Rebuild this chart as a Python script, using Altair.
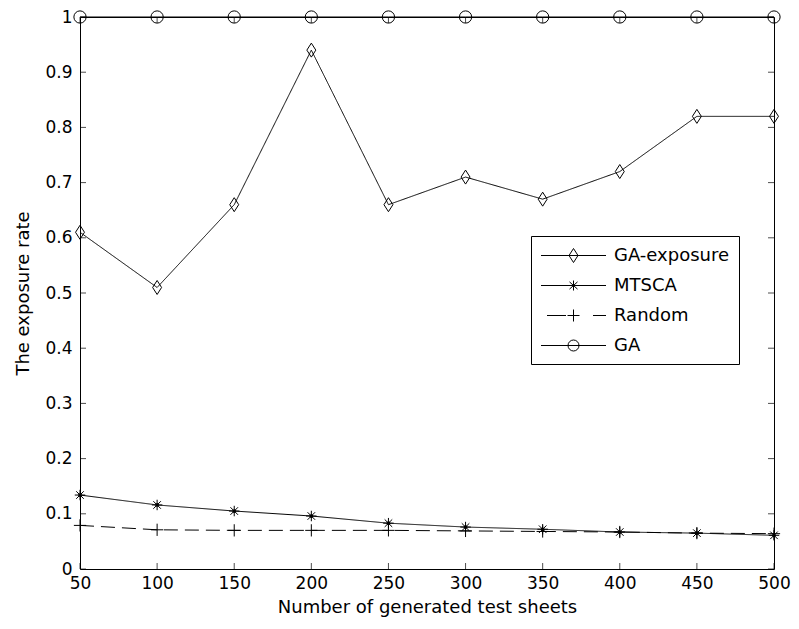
import altair as alt
import pandas as pd

# ---- data ----
sheets = [50, 100, 150, 200, 250, 300, 350, 400, 450, 500]
ga_exposure = [0.61, 0.51, 0.66, 0.94, 0.66, 0.71, 0.67, 0.72, 0.82, 0.82]
mtsca = [0.134, 0.116, 0.105, 0.096, 0.083, 0.076, 0.072, 0.067, 0.065, 0.061]
random_ = [0.079, 0.071, 0.070, 0.070, 0.070, 0.069, 0.068, 0.067, 0.065, 0.064]
ga = [1.0, 1.0, 1.0, 1.0, 1.0, 1.0, 1.0, 1.0, 1.0, 1.0]

series_names = ["GA-exposure", "MTSCA", "Random", "GA"]
x_ticks = [50, 100, 150, 200, 250, 300, 350, 400, 450, 500]
y_ticks = [0, 0.1, 0.2, 0.3, 0.4, 0.5, 0.6, 0.7, 0.8, 0.9, 1]

rows = []
for name, vals in zip(series_names, [ga_exposure, mtsca, random_, ga]):
    for xv, yv in zip(sheets, vals):
        rows.append({"series": name, "x": xv, "y": yv})
df = pd.DataFrame(rows)

W, H = 694, 552
FONT = "DejaVu Sans"

X = alt.X("x:Q", title="Number of generated test sheets",
          scale=alt.Scale(domain=[50, 500], nice=False, zero=False),
          axis=alt.Axis(values=x_ticks, tickSize=0, domain=False, grid=False,
                        labelFlush=False, labelOverlap=False, labelPadding=6,
                        titlePadding=7))
Y = alt.Y("y:Q", title="The exposure rate",
          scale=alt.Scale(domain=[0, 1], nice=False),
          axis=alt.Axis(values=y_ticks, tickSize=0, domain=False, grid=False,
                        labelFlush=False, labelOverlap=False, labelPadding=8,
                        titlePadding=12, format="~g"))

base = alt.Chart(df)

line_dash = {"GA-exposure": [1, 0], "MTSCA": [1, 0], "Random": [14, 7], "GA": [1, 0]}
line_layers = []
for name in series_names:
    line_layers.append(
        base.transform_filter(alt.datum.series == name)
        .mark_line(color="black", strokeWidth=1, strokeDash=line_dash[name])
        .encode(x=X, y=Y)
    )

marker_specs = {
    "GA-exposure": ("M0,-1L0.64,0L0,1L-0.64,0Z", 196),
    "MTSCA": ("M-1,0H1M0,-1V1M-0.72,-0.72L0.72,0.72M-0.72,0.72L0.72,-0.72", 110),
    "Random": ("M-1,0H1M0,-1V1", 150),
    "GA": ("circle", 150),
}
marker_layers = []
for name in series_names:
    shp, sz = marker_specs[name]
    marker_layers.append(
        base.transform_filter(alt.datum.series == name)
        .mark_point(shape=shp, size=sz, filled=False, color="black",
                    strokeWidth=1, opacity=1)
        .encode(x=X, y=Y)
    )
mtsca_dot = (base.transform_filter(alt.datum.series == "MTSCA")
             .mark_point(shape="circle", size=14, filled=True, color="black", opacity=1)
             .encode(x=X, y=Y))

# legend symbols: line + marker drawn as one path
legend_paths = [
    "M-3.25,0H3.25M0,-0.7L0.45,0L0,0.7L-0.45,0Z",
    "M-3.25,0H3.25M0,-0.5V0.5M-0.4,-0.36L0.4,0.36M-0.4,0.36L0.4,-0.36",
    "M-2.65,0H-0.75M-0.6,0H0.6M0,-0.6V0.6M1.95,0H3.25",
    "M-3.25,0H3.25M-0.55,0A0.55,0.55,0,1,1,0.55,0A0.55,0.55,0,1,1,-0.55,0Z",
]
legend_layer = base.transform_filter("false").mark_point(filled=False, color="black").encode(
    x=X, y=Y,
    shape=alt.Shape("series:N",
                    scale=alt.Scale(domain=series_names, range=legend_paths),
                    legend=alt.Legend(title=None, orient="none", legendX=451, legendY=219,
                                      padding=9, strokeColor="black", fillColor="white",
                                      labelFont=FONT, labelFontSize=18, labelColor="black",
                                      symbolSize=400, symbolStrokeWidth=1,
                                      symbolStrokeColor="black", symbolFillColor="transparent",
                                      symbolOpacity=1, symbolOffset=23, labelOffset=30,
                                      rowPadding=10, labelLimit=0, cornerRadius=0)),
)

xt = pd.DataFrame({"x": x_ticks})
yt = pd.DataFrame({"y": y_ticks})
tick_style = dict(color="black", thickness=1, size=6)
bottom_ticks = alt.Chart(xt).mark_tick(**tick_style).encode(x=X, y=alt.value(H - 3))
top_ticks = alt.Chart(xt).mark_tick(**tick_style).encode(x=X, y=alt.value(3))
left_ticks = alt.Chart(yt).mark_tick(**tick_style).encode(y=Y, x=alt.value(3))
right_ticks = alt.Chart(yt).mark_tick(**tick_style).encode(y=Y, x=alt.value(W - 3))

chart = alt.layer(
    *line_layers, *marker_layers, mtsca_dot, legend_layer,
    bottom_ticks, top_ticks, left_ticks, right_ticks,
).properties(
    width=W, height=H,
    background="white",
    autosize=alt.AutoSizeParams(type="none"),
    padding={"left": 72, "top": 9, "right": 17, "bottom": 50},
).configure_view(
    stroke="black", strokeWidth=1
).configure_axis(
    labelFont=FONT, labelFontSize=17, labelColor="black",
    titleFont=FONT, titleFontSize=18, titleFontWeight="normal", titleColor="black",
)

chart.save("out.html", embed_options={"renderer": "svg", "actions": False})
